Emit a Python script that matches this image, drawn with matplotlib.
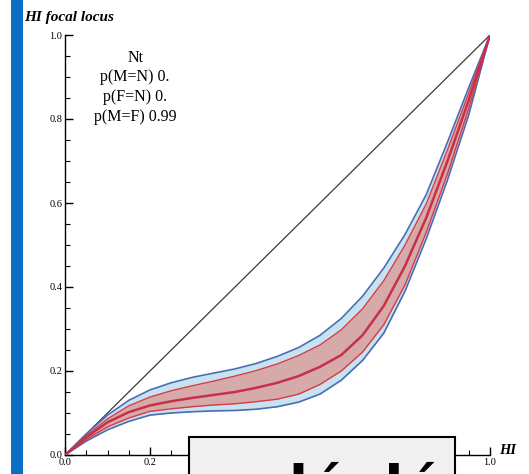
import matplotlib
matplotlib.use("Agg")
import matplotlib.pyplot as plt
from matplotlib.patches import Rectangle
from matplotlib.ticker import MultipleLocator

# HI (x) and focal locus bands
hi = [0, 0.05, 0.1, 0.15, 0.2, 0.25, 0.3, 0.35, 0.4, 0.45, 0.5,
      0.55, 0.6, 0.65, 0.7, 0.75, 0.8, 0.85, 0.9, 0.95, 1.0]
upper_blue = [0, 0.05, 0.095, 0.13, 0.155, 0.172, 0.185, 0.195, 0.205, 0.218, 0.235,
              0.256, 0.285, 0.325, 0.378, 0.445, 0.525, 0.62, 0.745, 0.875, 1.0]
upper_red = [0, 0.046, 0.086, 0.117, 0.138, 0.153, 0.165, 0.176, 0.188, 0.201, 0.217,
             0.237, 0.262, 0.298, 0.348, 0.415, 0.5, 0.598, 0.727, 0.862, 1.0]
middle = [0, 0.042, 0.078, 0.102, 0.118, 0.128, 0.136, 0.143, 0.15, 0.16, 0.172,
          0.188, 0.21, 0.238, 0.285, 0.355, 0.45, 0.565, 0.70, 0.845, 1.0]
lower_red = [0, 0.037, 0.067, 0.088, 0.104, 0.11, 0.115, 0.119, 0.122, 0.127, 0.133,
             0.145, 0.168, 0.2, 0.245, 0.31, 0.405, 0.53, 0.67, 0.825, 1.0]
lower_blue = [0, 0.033, 0.06, 0.08, 0.095, 0.1, 0.103, 0.105, 0.106, 0.109, 0.115,
              0.126, 0.145, 0.178, 0.225, 0.29, 0.39, 0.515, 0.655, 0.81, 1.0]
diag = [0, 1]

legend_lines = ["Nt", "p(M=N) 0.", "p(F=N) 0.", "p(M=F) 0.99"]
ticks = [0.0, 0.2, 0.4, 0.6, 0.8, 1.0]
xtick_labels = ["0.0", "0.2", "", "", "", "1.0"]  # the middle ones sit under the box
ytick_labels = ["0.0", "0.2", "0.4", "0.6", "0.8", "1.0"]

plt.rcParams['font.family'] = ['Liberation Serif', 'DejaVu Serif']

W, H = 529, 474
fig = plt.figure(figsize=(W / 100, H / 100), dpi=100)
ax = fig.add_axes([65 / W, (H - 455) / H, 425 / W, 420 / H])

ax.plot(diag, diag, color="#3a3a3a", lw=0.9, zorder=2)
ax.fill_between(hi, lower_blue, upper_blue, color="#c8e3f0", lw=0, zorder=3)
ax.fill_between(hi, lower_red, upper_red, color="#d6aaa8", lw=0, zorder=4)
ax.plot(hi, upper_blue, color="#4a6db3", lw=1.2, zorder=5)
ax.plot(hi, lower_blue, color="#4a6db3", lw=1.2, zorder=5)
ax.plot(hi, upper_red, color="#d83a48", lw=1.0, zorder=6)
ax.plot(hi, lower_red, color="#d83a48", lw=1.0, zorder=6)
ax.plot(hi, middle, color="#c8304a", lw=1.8, zorder=7)

ax.set_xlim(0, 1)
ax.set_ylim(0, 1)
for s in ["top", "right"]:
    ax.spines[s].set_visible(False)
for s in ["left", "bottom"]:
    ax.spines[s].set_linewidth(1.0)
ax.set_xticks(ticks)
ax.set_yticks(ticks)
ax.set_xticklabels(xtick_labels)
ax.set_yticklabels(ytick_labels)
ax.xaxis.set_minor_locator(MultipleLocator(0.05))
ax.yaxis.set_minor_locator(MultipleLocator(0.05))
ax.tick_params(which="major", direction="in", length=6, width=1.0,
               labelsize=7.5, pad=2)
ax.tick_params(which="minor", direction="in", length=3.5, width=0.8)

ax.text(0.165, 0.965, "\n".join(legend_lines), transform=ax.transAxes,
        ha="center", va="top", fontsize=11.5, linespacing=1.3)

fig.text(24 / W, 1 - 18 / H, "HI focal locus", ha="left", va="center",
         fontsize=11, style="italic", weight="bold")
fig.text(499 / W, 1 - 451 / H, "HI", ha="left", va="center",
         fontsize=10.5, style="italic", weight="bold")

# blue bar on the left edge
fig.add_artist(Rectangle((11 / W, 0), 12 / W, 1, transform=fig.transFigure,
                         color="#0a6fc2", lw=0, zorder=10))

# overlay box at the bottom
fig.add_artist(Rectangle((189 / W, -0.05), 266 / W, (H - 437) / H + 0.05,
                         transform=fig.transFigure, facecolor="#f0f0f0",
                         edgecolor="black", lw=1.5, zorder=20))
fig.text(289 / W, -31 / H, "lé  lé", ha="left", va="baseline",
         fontsize=40, weight="bold", family="DejaVu Sans", zorder=21)

fig.savefig("out.png", dpi=100)
